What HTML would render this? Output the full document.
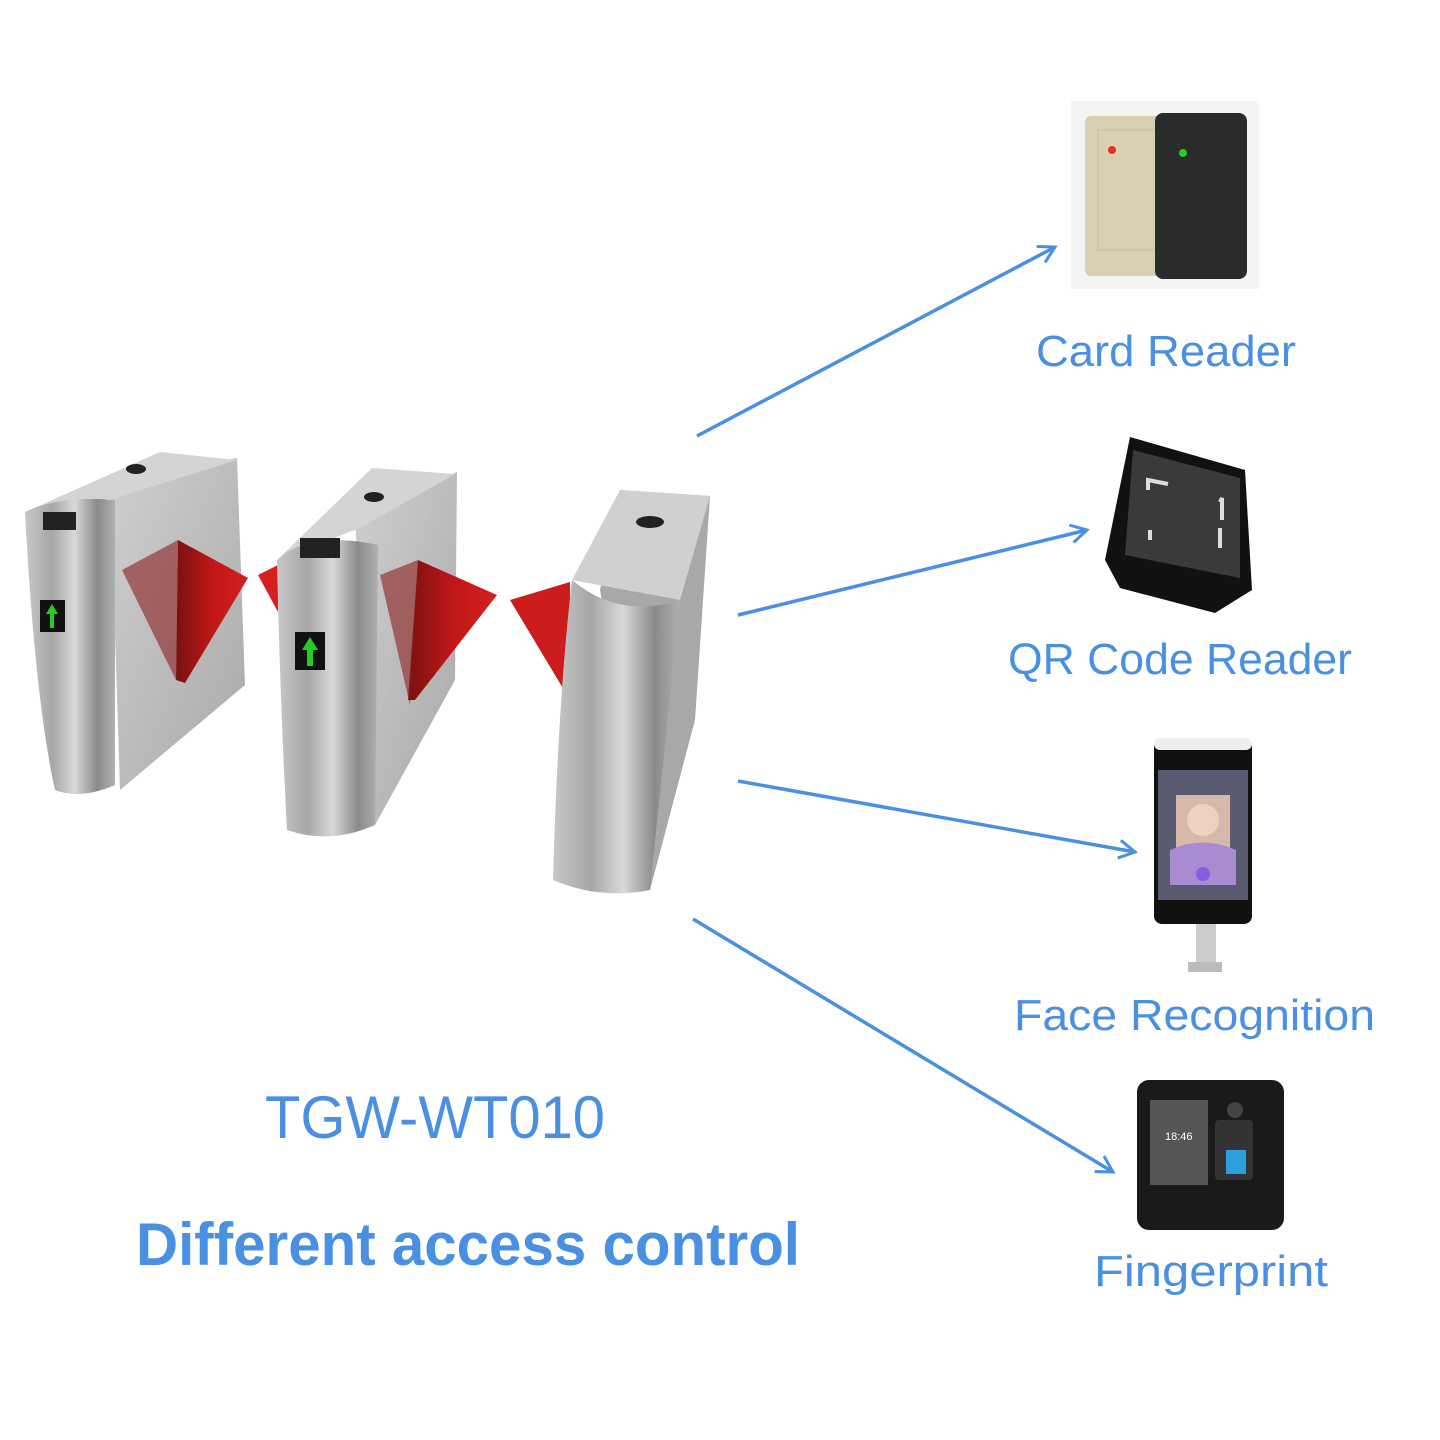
<!DOCTYPE html>
<html><head><meta charset="utf-8"><style>
html,body{margin:0;padding:0;background:#fff}
svg{display:block}
text{font-family:"Liberation Sans",sans-serif;fill:#4a90e2}
</style></head><body>
<svg width="1440" height="1440" viewBox="0 0 1440 1440" xmlns="http://www.w3.org/2000/svg">
<defs>
<linearGradient id="cyl" x1="0" x2="1" y1="0" y2="0">
<stop offset="0" stop-color="#c8c8c8"/><stop offset="0.3" stop-color="#a6a6a6"/><stop offset="0.55" stop-color="#d9d9d9"/><stop offset="0.8" stop-color="#8a8a8a"/><stop offset="1" stop-color="#b0b0b0"/>
</linearGradient>
<linearGradient id="side" x1="0" x2="1" y1="0" y2="1">
<stop offset="0" stop-color="#cfcfcf"/><stop offset="1" stop-color="#a9a9a9"/>
</linearGradient>
<linearGradient id="red" x1="0" x2="1">
<stop offset="0" stop-color="#7a1010"/><stop offset="0.5" stop-color="#c01818"/><stop offset="1" stop-color="#d42020"/>
</linearGradient>
<marker id="ah" markerWidth="24" markerHeight="24" refX="20" refY="12" orient="auto" markerUnits="userSpaceOnUse">
<path d="M4,3 L20,12 L4,21" fill="none" stroke="#4a90e2" stroke-width="3"/>
</marker>
</defs>

<g stroke="#4a90e2" stroke-width="3.5" fill="none" marker-end="url(#ah)">
<line x1="697" y1="436" x2="1055" y2="247"/>
<line x1="738" y1="615" x2="1087" y2="530"/>
<line x1="738" y1="781" x2="1135" y2="852"/>
<line x1="693" y1="919" x2="1113" y2="1172"/>
</g>

<!-- turnstile 1 -->
<polygon points="110,480 237,458 245,685 120,790" fill="url(#side)"/>
<polygon points="25,512 160,452 237,460 115,498" fill="#d4d4d4"/>
<path d="M25,512 Q60,495 115,500 L115,785 Q80,800 55,790 Q35,700 25,512 Z" fill="url(#cyl)"/>
<ellipse cx="136" cy="469" rx="10" ry="5" fill="#222"/>
<rect x="43" y="512" width="33" height="18" fill="#222"/>
<rect x="40" y="600" width="25" height="32" fill="#111"/>
<path d="M52,604 L46,614 L50,614 L50,628 L54,628 L54,614 L58,614 Z" fill="#2c2"/>
<polygon points="178,540 248,578 185,683 176,680" fill="url(#red)"/>
<polygon points="122,570 178,540 176,680" fill="#8a2020" opacity="0.6"/>
<polygon points="258,575 278,565 278,612" fill="#d42020"/>

<!-- turnstile 2 -->
<polygon points="355,520 457,472 455,680 375,825" fill="url(#side)"/>
<polygon points="277,560 372,468 455,474 360,528" fill="#d4d4d4"/>
<path d="M277,560 Q310,530 378,545 L375,825 Q330,845 287,830 Q280,700 277,560 Z" fill="url(#cyl)"/>
<ellipse cx="374" cy="497" rx="10" ry="5" fill="#222"/>
<rect x="300" y="538" width="40" height="20" fill="#222"/>
<rect x="295" y="632" width="30" height="38" fill="#111"/>
<path d="M310,637 L302,650 L307,650 L307,666 L313,666 L313,650 L318,650 Z" fill="#2c2"/>
<polygon points="418,560 497,595 415,700 408,700" fill="url(#red)"/>
<polygon points="380,575 418,560 410,705" fill="#8a2020" opacity="0.6"/>

<!-- turnstile 3 -->
<polygon points="510,600 570,582 570,700" fill="#cc1c1c"/>
<polygon points="620,490 710,496 695,720 650,890 600,590" fill="#a8a8a8"/>
<polygon points="572,580 620,490 710,496 680,600" fill="#d0d0d0"/>
<path d="M572,580 Q620,620 680,600 L650,890 Q600,900 553,880 Q558,700 572,580 Z" fill="url(#cyl)"/>
<ellipse cx="650" cy="522" rx="14" ry="6" fill="#222"/>

<!-- card reader -->
<rect x="1071" y="101" width="188" height="188" fill="#f4f4f4"/>
<rect x="1085" y="116" width="82" height="160" rx="6" fill="#d9cfb2"/>
<rect x="1098" y="130" width="60" height="120" fill="none" stroke="#c5bb9e"/>
<circle cx="1112" cy="150" r="4" fill="#e03020"/>
<rect x="1155" y="113" width="92" height="166" rx="8" fill="#2a2b2d"/>
<circle cx="1183" cy="153" r="4" fill="#2c2"/>

<!-- QR reader -->
<polygon points="1130,437 1245,470 1252,590 1215,613 1120,588 1105,560" fill="#111"/>
<polygon points="1133,450 1240,478 1240,578 1125,555" fill="#3a3a3a"/>
<path d="M1148,490 L1148,480 L1168,484 M1220,502 L1222,498 L1222,520 M1150,530 L1150,540 M1220,548 L1220,528" stroke="#ddd" stroke-width="4" fill="none"/>

<!-- face recognition -->
<rect x="1196" y="918" width="20" height="52" fill="#ccc"/>
<rect x="1188" y="962" width="34" height="10" fill="#bbb"/>
<rect x="1154" y="738" width="98" height="186" rx="8" fill="#111"/>
<rect x="1154" y="738" width="98" height="12" rx="6" fill="#eee"/>
<rect x="1158" y="770" width="90" height="130" fill="#5a5a70"/>
<rect x="1176" y="795" width="54" height="55" fill="#d8b8a8"/>
<circle cx="1203" cy="820" r="16" fill="#f0d0c0"/>
<path d="M1170,850 Q1203,835 1236,850 L1236,885 L1170,885 Z" fill="#a88bd0"/>
<circle cx="1203" cy="874" r="7" fill="#8060e0"/>

<!-- fingerprint -->
<rect x="1137" y="1080" width="147" height="150" rx="12" fill="#1a1a1a"/>
<rect x="1150" y="1100" width="58" height="85" fill="#555"/>
<text x="1165" y="1140" font-size="11" style="fill:#fff">18:46</text>
<rect x="1215" y="1120" width="38" height="60" rx="4" fill="#333"/>
<rect x="1226" y="1150" width="20" height="24" fill="#2aa0e0"/>
<circle cx="1235" cy="1110" r="8" fill="#444"/>

<!-- labels -->
<text x="1036" y="366" font-size="44" textLength="260" lengthAdjust="spacingAndGlyphs">Card Reader</text>
<text x="1008" y="674" font-size="44" textLength="344" lengthAdjust="spacingAndGlyphs">QR Code Reader</text>
<text x="1014" y="1030" font-size="44" textLength="361" lengthAdjust="spacingAndGlyphs">Face Recognition</text>
<text x="1094" y="1286" font-size="44" textLength="234" lengthAdjust="spacingAndGlyphs">Fingerprint</text>
<text x="265" y="1138" font-size="60" textLength="340" lengthAdjust="spacingAndGlyphs">TGW-WT010</text>
<text x="136" y="1265" font-size="60" font-weight="bold" textLength="664" lengthAdjust="spacingAndGlyphs">Different access control</text>
</svg>
</body></html>
